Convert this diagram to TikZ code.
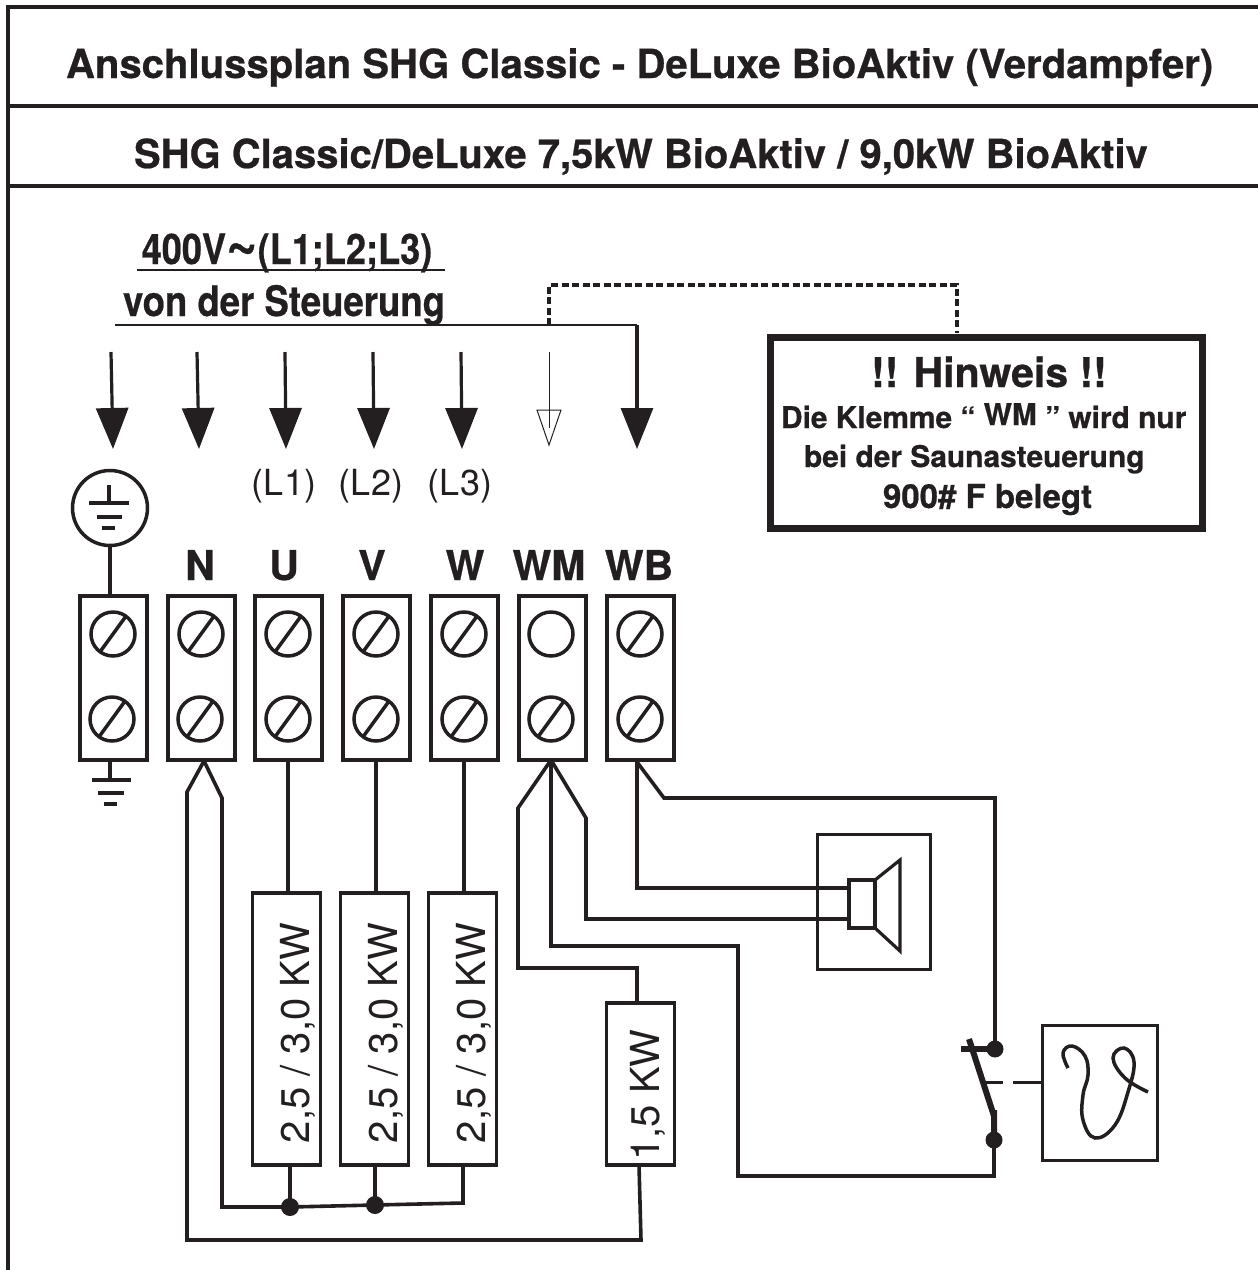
\documentclass[tikz,border=0pt]{standalone}
\usepackage{fontspec}
\setmainfont[BoldFeatures={FakeBold=0.6}]{TeX Gyre Heros}
\usetikzlibrary{arrows.meta}
\definecolor{ink}{HTML}{231F20}
\newcommand{\fsz}[1]{\fontsize{#1}{#1}\selectfont}
\tikzset{
  wire/.style={draw=ink,line width=3.6pt,line join=miter},
  thinwire/.style={draw=ink,line width=2.8pt},
  frameline/.style={draw=ink,line width=3.6pt},
  termbox/.style={draw=ink,line width=4pt,fill=white,minimum width=67pt,minimum height=164pt,inner sep=0pt,outer sep=0pt},
  heatbox/.style={draw=ink,line width=3.8pt,fill=white,minimum width=68pt,inner sep=0pt,outer sep=0pt},
  screwc/.style={circle,draw=ink,line width=3.5pt,minimum size=44pt,inner sep=0pt,outer sep=0pt},
  dot/.style={circle,fill=ink,minimum size=#1,inner sep=0pt,outer sep=0pt},
  bigarrow/.style={draw=ink,line width=3.2pt,-{Triangle[length=41pt,width=32pt]},ink},
  lab/.style={text=ink,inner sep=0pt,outer sep=0pt,anchor=base west},
  labc/.style={text=ink,inner sep=0pt,outer sep=0pt,anchor=base},
}
\newcommand{\screw}[3]{%
  \node[screwc] (#1) at (#2,#3) {};
  \draw[ink,line width=3.5pt] (#1.234) -- (#1.54);
}
\begin{document}
\begin{tikzpicture}[x=1pt,y=-1pt]
\useasboundingbox (0,0) rectangle (1258,1270);
% frame
\draw[frameline] (1258,7) -- (8,7) -- (8,1270);
\draw[frameline] (8,106) -- (1258,106);
\draw[frameline] (8,186) -- (1258,186);
\node[lab,font=\bfseries\fsz{40.1}] (title) at (66,78) {Anschlussplan SHG Classic - DeLuxe BioAktiv (Verdampfer)};
\node[lab,font=\bfseries\fsz{40}] (subtitle) at (134,168) {SHG Classic/DeLuxe 7,5kW BioAktiv / 9,0kW BioAktiv};
% supply text
\node[labc,font=\bfseries\fsz{42}] (supply) at (287,264) {\scalebox{0.86}[1]{400V\raisebox{1pt}{\scalebox{1.5}{\textasciitilde}}(L1;L2;L3)}};
\node[labc,font=\bfseries\fsz{42}] (supply2) at (284,316) {\scalebox{0.87}[1]{von der Steuerung}};
\coordinate (ulA) at (137,270); \coordinate (ulB) at (445,270);
\draw[thinwire] (ulA) -- (ulB);
% terminals
\foreach \nm/\x in {tE/113,tN/201,tU/288,tV/376,tW/464,tWM/552,tWB/640}{
  \node[termbox] (\nm) at (\x,678) {};
}
\foreach \nm/\x/\y in {s1/113/634,s2/112/719,s3/201/634,s4/200/719,s5/288/634,s6/288/719,s7/376/634,s8/376/719,s9/464/634,s10/464/719,s12/551/719,s13/640/634,s14/640/719}{
  \screw{\nm}{\x}{\y}
}
\node[screwc] (s11) at (551,634) {};
% terminal labels
\foreach \nm/\x/\t in {lN/200/N,lU/284/U,lV/372/V,lW/465/W,lWM/549/WM,lWB/639/WB}{
  \node[labc,font=\bfseries\fsz{41}] (\nm) at (\x,580) {\t};
}
\foreach \nm/\x/\t in {lL1/284/(L1),lL2/371/(L2),lL3/460/(L3)}{
  \node[labc,font=\fsz{36}] (\nm) at (\x,495) {\t};
}
% arrows
\foreach \i/\xa/\xb in {1/111/113,2/197/199,3/285/286,4/373/374,5/461/462}{
  \coordinate (aS\i) at (\xa,352);
  \coordinate (aE\i) at (\xb,449);
  \draw[bigarrow] (aS\i) -- (aE\i);
}
\coordinate (busL) at (115,325);
\coordinate (busR) at (637,325);
\coordinate (aEb) at (637,449);
\draw[thinwire] (busL) -- (busR);
\draw[bigarrow] (busR) -- (aEb);
\coordinate (aSh) at (549,352);
\coordinate (aMh) at (549,428);
\coordinate (aEh) at (549,445);
\draw[ink,line width=1pt] (aSh) -- (aMh);
\draw[ink,line width=1pt] (537,410) -- (561,410) -- (aEh) -- cycle;
% notice box
\node[draw=ink,line width=7pt,fill=white,minimum width=432pt,minimum height=191pt,inner sep=0pt,outer sep=0pt] (note) at (986,432.5) {};
\coordinate (busD) at (549,325);
\coordinate (noteT) at (957,333);
\draw[ink,line width=4.2pt,dash pattern=on 7pt off 3.5pt] (busD) -- (549,285) -- (957,285) -- (noteT);
\node[labc,font=\bfseries\fsz{41}] (n1) at (989,387) {!! Hinweis !!};
\node[lab,font=\bfseries\fsz{29.9}] (n2) at (781,428) {Die Klemme “ \raisebox{3pt}{WM} ” wird nur};
\node[lab,font=\bfseries\fsz{29.9}] (n3) at (804,467) {bei der Saunasteuerung};
\node[lab,font=\bfseries\fsz{33}] (n4) at (883,508) {900\# F belegt};
% earth
\node[circle,draw=ink,line width=3.5pt,minimum size=75pt,inner sep=0pt,outer sep=0pt] (pe) at (110,508) {};
\draw[wire] (pe.south) -- (pe.south |- tE.north);
\draw[ink,line width=3.5pt] (109,485) -- (109,503);
\draw[ink,line width=3.5pt] (89,503) -- (129,503);
\draw[ink,line width=3.5pt] (97,517) -- (122,517);
\draw[ink,line width=3.5pt] (102,528) -- (115,528);
\coordinate (gnd) at (110,780);
\draw[wire] (tE.south -| gnd) -- (gnd);
\draw[ink,line width=3.5pt] (92,780) -- (131,780);
\draw[ink,line width=3.5pt] (98,793) -- (124,793);
\draw[ink,line width=3.5pt] (104,804) -- (117,804);
% heaters
\foreach \nm/\x in {hU/286.5,hV/374.5,hW/462.5}{
  \node[heatbox,minimum height=272pt] (\nm) at (\x,1029) {};
  \node[text=ink,inner sep=0pt,rotate=90,font=\fsz{40}] at (\x+11,1033) {2,5 / 3,0 KW};
}
\node[heatbox,minimum height=162pt] (hB) at (640.5,1084) {};
\node[text=ink,inner sep=0pt,rotate=90,font=\fsz{40}] at (648,1095) {1,5 KW};
\draw[wire] (tU.south) -- (tU.south |- hU.north);
\draw[wire] (tV.south) -- (tV.south |- hV.north);
\draw[wire] (tW.south) -- (tW.south |- hW.north);
% neutral wiring
\node[dot=18pt] (j1) at (290,1207) {};
\node[dot=18pt] (j2) at (375,1205) {};
\coordinate (nT) at (204,761);
\draw[wire] (nT) -- (222,798) -- (222,1207) -- (j1.center) -- (j2.center) -- (463,1203) -- (463,1165);
\draw[wire] (nT) -- (187,792) -- (187,1240) -- (641,1240) -- (hB.south -| 639,0);
\draw[wire] (j1.center) -- (j1.center |- hU.south);
\draw[wire] (j2.center) -- (j2.center |- hV.south);
% speaker
\node[draw=ink,line width=3.8pt,minimum width=113pt,minimum height=135pt,inner sep=0pt,outer sep=0pt] (spk) at (874,902) {};
\node[draw=ink,line width=3.8pt,minimum width=26pt,minimum height=48pt,inner sep=0pt,outer sep=0pt] (coil) at (862,904) {};
\draw[ink,line width=3.2pt,line join=miter] (coil.north east) -- (900,860) -- (900,951) -- (coil.south east) -- cycle;
% WM / WB wires
\coordinate (mT) at (551,760);
\coordinate (bT) at (637,762);
\draw[wire] (bT) -- (637,888) -- (coil.west |- 0,888);
\draw[wire] (mT) -- (586,818) -- (586,919) -- (coil.west |- 0,919);
\draw[wire] (mT) -- (518,808) -- (518,968) -- (637,968) -- (hB.north -| 637,0);
\node[dot=17pt] (sw1) at (995,1049) {};
\node[dot=17pt] (sw2) at (994,1140) {};
\draw[wire] (bT) -- (664,798) -- (995,798) -- (sw1.center);
\draw[wire] (mT) -- (551,946) -- (738,946) -- (738,1176) -- (994,1176) -- (sw2.center);
% switch
\draw[ink,line width=6pt] (961,1049) -- (sw1.center);
\draw[ink,line width=6pt] (969,1039) -- (993,1113) -- (994,1113) -- (sw2.center);
\node[draw=ink,line width=3.8pt,minimum width=115pt,minimum height=135pt,inner sep=0pt,outer sep=0pt] (hyg) at (1100,1093) {};
\draw[ink,line width=3pt] (986,1082) -- (1003,1082);
\coordinate (dashR) at (1013,1082);
\draw[ink,line width=3pt] (dashR) -- (dashR -| hyg.west);
\draw[ink,line width=3.5pt] plot[smooth,tension=0.7] coordinates {(1068,1068) (1063,1053) (1072,1046) (1085,1056) (1088,1075) (1083,1095) (1083,1120) (1095,1138) (1115,1125) (1128,1092) (1134,1062) (1124,1048) (1113,1058) (1125,1078) (1148,1092)};
\end{tikzpicture}
\end{document}
